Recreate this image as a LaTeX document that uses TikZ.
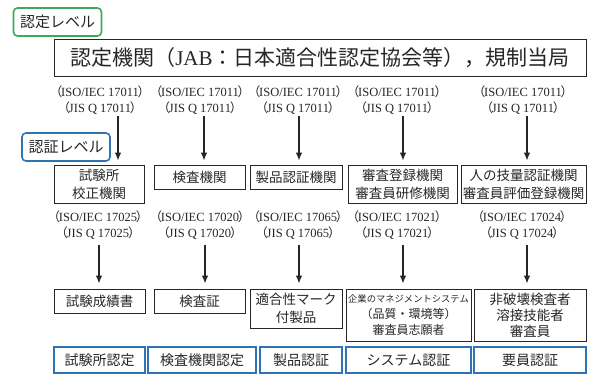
\documentclass[tikz,border=0pt]{standalone}
\usepackage{fontspec}
\setmainfont{Liberation Serif}
\newfontfamily\cjk{Noto Sans CJK JP}
\usetikzlibrary{arrows.meta}
\definecolor{grn}{HTML}{3BAA5C}
\definecolor{blu}{HTML}{2E74B5}
\definecolor{ink}{HTML}{262626}
\newcommand\lpar{{\cjk （}\kern-0.1em}
\newcommand\rpar{\kern-0.1em{\cjk ）}}
\begin{document}
\begin{tikzpicture}[x=1pt,y=-1pt,
  box/.style={draw=ink, line width=0.9pt, inner sep=0pt, align=center, text=ink,
    font=\cjk\fontsize{13.5}{18}\selectfont},
  bbox/.style={draw=blu, line width=1.6pt, inner sep=0pt, align=center, text=ink,
    minimum height=26pt, font=\cjk\fontsize{14}{16}\selectfont},
  lvl/.style={rounded corners=4pt, line width=1.6pt, inner sep=0pt, text=ink,
    minimum width=88pt, minimum height=28pt, font=\cjk\fontsize{15}{16}\selectfont},
  std/.style={text=ink, align=center, inner sep=0pt, font=\fontsize{12.5}{16}\selectfont},
  arr/.style={-{Latex[length=8pt,width=6.5pt]}, line width=1.1pt, draw=ink}]
\useasboundingbox (0,0) rectangle (592,374);

% level labels
\node[lvl, draw=grn] (lvA) at (57.5,22) {認定レベル};
\node[lvl, draw=blu] (lvB) at (66,147) {認証レベル};

% top box
\node[box, minimum width=532pt, minimum height=37pt, font=\cjk\fontsize{21}{24}\selectfont]
  (top) at (320,57.5) {認定機関（{\rmfamily JAB}：日本適合性認定協会等），規制当局};

% standards, row a
\node[std] (la1) at (100,100) {\lpar ISO/IEC 17011\rpar\\\lpar JIS Q 17011\rpar};
\node[std] (la2) at (200,100) {\lpar ISO/IEC 17011\rpar\\\lpar JIS Q 17011\rpar};
\node[std] (la3) at (298,100) {\lpar ISO/IEC 17011\rpar\\\lpar JIS Q 17011\rpar};
\node[std] (la4) at (397,100) {\lpar ISO/IEC 17011\rpar\\\lpar JIS Q 17011\rpar};
\node[std] (la5) at (523,100) {\lpar ISO/IEC 17011\rpar\\\lpar JIS Q 17011\rpar};

% row 1 boxes
\node[box, minimum width=90pt, minimum height=38pt] (r1a) at (99,184) {試験所\\校正機関};
\node[box, minimum width=91pt, minimum height=24pt] (r1b) at (199.5,177) {検査機関};
\node[box, minimum width=92pt, minimum height=24pt] (r1c) at (296,177) {製品認証機関};
\node[box, minimum width=109pt, minimum height=38pt] (r1d) at (402.5,184) {審査登録機関\\審査員研修機関};
\node[box, minimum width=125pt, minimum height=38pt] (r1e) at (523.5,184) {人の技量認証機関\\審査員評価登録機関};

% standards, row b
\node[std] (lb1) at (98,225) {\lpar ISO/IEC 17025\rpar\\\lpar JIS Q 17025\rpar};
\node[std] (lb2) at (200,225) {\lpar ISO/IEC 17020\rpar\\\lpar JIS Q 17020\rpar};
\node[std] (lb3) at (298,225) {\lpar ISO/IEC 17065\rpar\\\lpar JIS Q 17065\rpar};
\node[std] (lb4) at (397,225) {\lpar ISO/IEC 17021\rpar\\\lpar JIS Q 17021\rpar};
\node[std] (lb5) at (522,225) {\lpar ISO/IEC 17024\rpar\\\lpar JIS Q 17024\rpar};

% row 3 boxes
\node[box, minimum width=91pt, minimum height=24pt] (r3a) at (99.5,301) {試験成績書};
\node[box, minimum width=91pt, minimum height=24pt] (r3b) at (199.5,301) {検査証};
\node[box, minimum width=92pt, minimum height=39pt] (r3c) at (296,308.5) {適合性マーク\\付製品};
\node[box, minimum width=125pt, minimum height=52pt, font=\cjk\fontsize{12}{16}\selectfont] (r3d) at (408.5,315)
  {{\fontsize{9.3}{12}\selectfont 企業のマネジメントシステム}\\（品質・環境等）\\審査員志願者};
\node[box, minimum width=112pt, minimum height=52pt, font=\cjk\fontsize{13.5}{16}\selectfont] (r3e) at (530,315)
  {非破壊検査者\\溶接技能者\\審査員};

% bottom blue row
\node[bbox, minimum width=91pt] (b1) at (99.5,360) {試験所認定};
\node[bbox, minimum width=108pt] (b2) at (202,360) {検査機関認定};
\node[bbox, minimum width=82pt] (b3) at (301,360) {製品認証};
\node[bbox, minimum width=125pt] (b4) at (408.5,360) {システム認証};
\node[bbox, minimum width=112pt] (b5) at (530,360) {要員認証};

% arrow start points
\coordinate (sa1) at (118,116);
\coordinate (sa2) at (204,116);
\coordinate (sa3) at (299,116);
\coordinate (sa4) at (403,116);
\coordinate (sa5) at (527,116);
\coordinate (sb1) at (99,245);
\coordinate (sb2) at (205,245);
\coordinate (sb3) at (299,245);
\coordinate (sb4) at (403,245);
\coordinate (sb5) at (527,245);

\draw[arr] (sa1) -- ([yshift=4pt]sa1 |- r1a.north);
\draw[arr] (sa2) -- ([yshift=4pt]sa2 |- r1b.north);
\draw[arr] (sa3) -- ([yshift=4pt]sa3 |- r1c.north);
\draw[arr] (sa4) -- ([yshift=4pt]sa4 |- r1d.north);
\draw[arr] (sa5) -- ([yshift=4pt]sa5 |- r1e.north);
\draw[arr] (sb1) -- ([yshift=5pt]sb1 |- r3a.north);
\draw[arr] (sb2) -- ([yshift=5pt]sb2 |- r3b.north);
\draw[arr] (sb3) -- ([yshift=5pt]sb3 |- r3c.north);
\draw[arr] (sb4) -- ([yshift=5pt]sb4 |- r3d.north);
\draw[arr] (sb5) -- ([yshift=5pt]sb5 |- r3e.north);
\end{tikzpicture}
\end{document}
